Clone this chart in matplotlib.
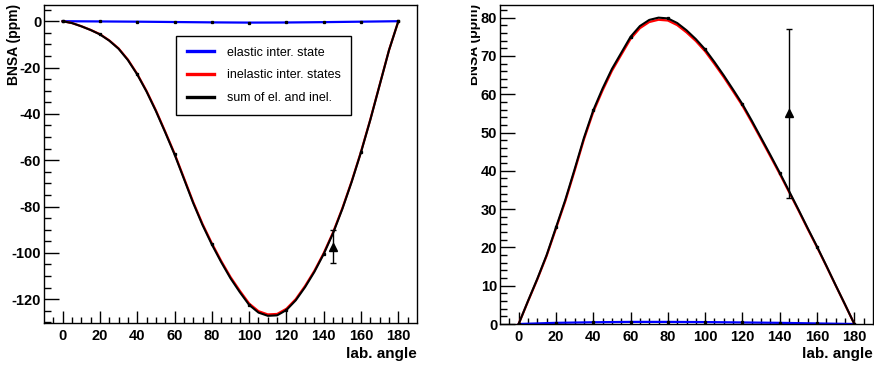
import matplotlib
matplotlib.use("Agg")
import matplotlib.pyplot as plt
from matplotlib.lines import Line2D
from matplotlib.transforms import Bbox, TransformedBbox

plt.rcParams['font.family'] = ['Liberation Sans', 'DejaVu Sans']
plt.rcParams['axes.unicode_minus'] = False

# lab. angle grid (deg)
angle = list(range(0, 181, 5))
angle_el = list(range(0, 181, 20))

# left panel
left_sum = [0, -0.8, -2.2, -3.8, -5.7, -8.4, -11.9, -16.8, -23.0, -30.4, -38.8, -48.0,
            -57.5, -68.0, -78.5, -88.0, -96.4, -104.0, -111.0, -117.0, -122.5, -125.8,
            -127.2, -127.0, -124.7, -120.5, -114.8, -108.2, -100.5, -91.5, -81.0, -69.3,
            -56.5, -42.5, -27.5, -12.5, 0]
left_inel = [0, -0.8, -2.15, -3.75, -5.6, -8.3, -11.75, -16.6, -22.8, -30.15, -38.5, -47.7,
             -57.15, -67.6, -78.1, -87.55, -95.9, -103.5, -110.45, -116.4, -121.9, -125.2,
             -126.6, -126.4, -124.15, -120.0, -114.3, -107.75, -100.1, -91.15, -80.7, -69.05,
             -56.3, -42.35, -27.4, -12.45, 0]
left_el = [0, -0.1, -0.2, -0.35, -0.5, -0.6, -0.55, -0.4, -0.2, 0]
left_meas_x, left_meas_y = 145, -97.5
left_meas_err = [[7.0], [7.3]]  # down, up

# right panel
right_sum = [0, 6.0, 11.8, 18.0, 25.2, 32.4, 40.4, 48.6, 55.8, 61.5, 66.6, 70.8,
             75.0, 77.8, 79.4, 80.0, 79.8, 78.6, 76.7, 74.4, 71.7, 68.4, 64.9, 61.2,
             57.4, 53.1, 48.6, 44.1, 39.5, 34.7, 29.9, 25.0, 20.2, 15.2, 10.1, 5.1, 0]
right_inel = [0, 5.9, 11.65, 17.8, 24.9, 32.05, 40.0, 48.2, 55.35, 61.0, 66.1, 70.3,
              74.45, 77.25, 78.85, 79.45, 79.25, 78.05, 76.15, 73.9, 71.2, 67.9, 64.45, 60.75,
              57.0, 52.7, 48.25, 43.75, 39.2, 34.45, 29.7, 24.8, 20.05, 15.1, 10.05, 5.05, 0]
right_el = [0, 0.3, 0.45, 0.55, 0.55, 0.5, 0.4, 0.3, 0.15, 0]
right_meas_x, right_meas_y = 145, 55.0
right_meas_err = [[22.0], [22.0]]

labels = ["elastic inter. state", "inelastic inter. states", "sum of el. and inel."]

W, H = 874, 366
fig = plt.figure(figsize=(W / 100, H / 100), dpi=100)


def px_axes(x0, y0, x1, y1):
    return fig.add_axes([x0 / W, 1 - y1 / H, (x1 - x0) / W, (y1 - y0) / H])


def style(ax, ylim, ymajor, yminor):
    ax.set_xlim(-10, 190)
    ax.set_ylim(*ylim)
    ax.set_xticks(range(0, 181, 20))
    ax.set_xticks(range(-5, 186, 5), minor=True)
    ax.set_yticks(ymajor)
    ax.set_yticks(yminor, minor=True)
    ax.tick_params(which='both', direction='in', top=False, right=False, width=1)
    ax.tick_params(axis='x', which='major', length=9, pad=4)
    ax.tick_params(axis='x', which='minor', length=4.5)
    ax.tick_params(axis='y', which='major', length=11, pad=2)
    ax.tick_params(axis='y', which='minor', length=5)
    for lab in ax.get_xticklabels() + ax.get_yticklabels():
        lab.set_fontsize(10.5)
        lab.set_fontweight('bold')
    for s in ax.spines.values():
        s.set_linewidth(1)


def draw(ax, inel, summ, el, mx, my, merr):
    ax.plot(angle, inel, color='#ff0000', lw=1.6, zorder=3)
    ax.plot(angle, summ, color='black', lw=1.5, zorder=4,
            marker='s', markersize=1.4, markevery=4)
    ax.plot(angle_el, el, color='#0000ff', lw=1.6, zorder=2,
            marker='s', markersize=1.4, markerfacecolor='black', markeredgecolor='black')
    ax.errorbar([mx], [my], yerr=merr, fmt='^', color='black', markersize=6,
                elinewidth=1, capsize=2.5, capthick=1, zorder=5)


# left
ax1 = px_axes(44, 5, 417, 323)
draw(ax1, left_inel, left_sum, left_el, left_meas_x, left_meas_y, left_meas_err)
style(ax1, (-130.3, 7), range(-120, 1, 20), range(-130, 6, 5))

handles = [Line2D([], [], color='#0000ff', lw=2.4),
           Line2D([], [], color='#ff0000', lw=2.4),
           Line2D([], [], color='black', lw=2.4)]
leg = fig.legend(handles, labels, loc='upper left',
                 bbox_to_anchor=(176 / W, 1 - 36 / H), bbox_transform=fig.transFigure,
                 borderaxespad=0, fancybox=False, framealpha=1, edgecolor='black',
                 prop=dict(size=9), handlelength=2.15, handletextpad=1.05,
                 labelspacing=0.85, borderpad=0.85)
leg.get_frame().set_linewidth(1)

# right
ax2 = px_axes(500, 5, 873, 324)
draw(ax2, right_inel, right_sum, right_el, right_meas_x, right_meas_y, right_meas_err)
style(ax2, (0, 83.3), range(0, 81, 10), list(range(0, 84, 2)))

# axis titles, ROOT style
fig.text(14 / W, 1 - 4 / H, "BNSA (ppm)", rotation=90, ha='center', va='top',
         fontsize=10, fontweight='bold')
t = fig.text(474 / W, 1 - 4 / H, "BNSA (ppm)", rotation=90, ha='center', va='top',
             fontsize=10, fontweight='bold')
t.set_clip_box(TransformedBbox(Bbox.from_extents(471 / W, 0, 1, 1), fig.transFigure))
t.set_clip_on(True)

fig.text(417 / W, 1 - 354 / H, "lab. angle", ha='right', va='center',
         fontsize=11, fontweight='bold')
fig.text(873 / W, 1 - 354 / H, "lab. angle", ha='right', va='center',
         fontsize=11, fontweight='bold')

fig.savefig("out.png", dpi=100)
